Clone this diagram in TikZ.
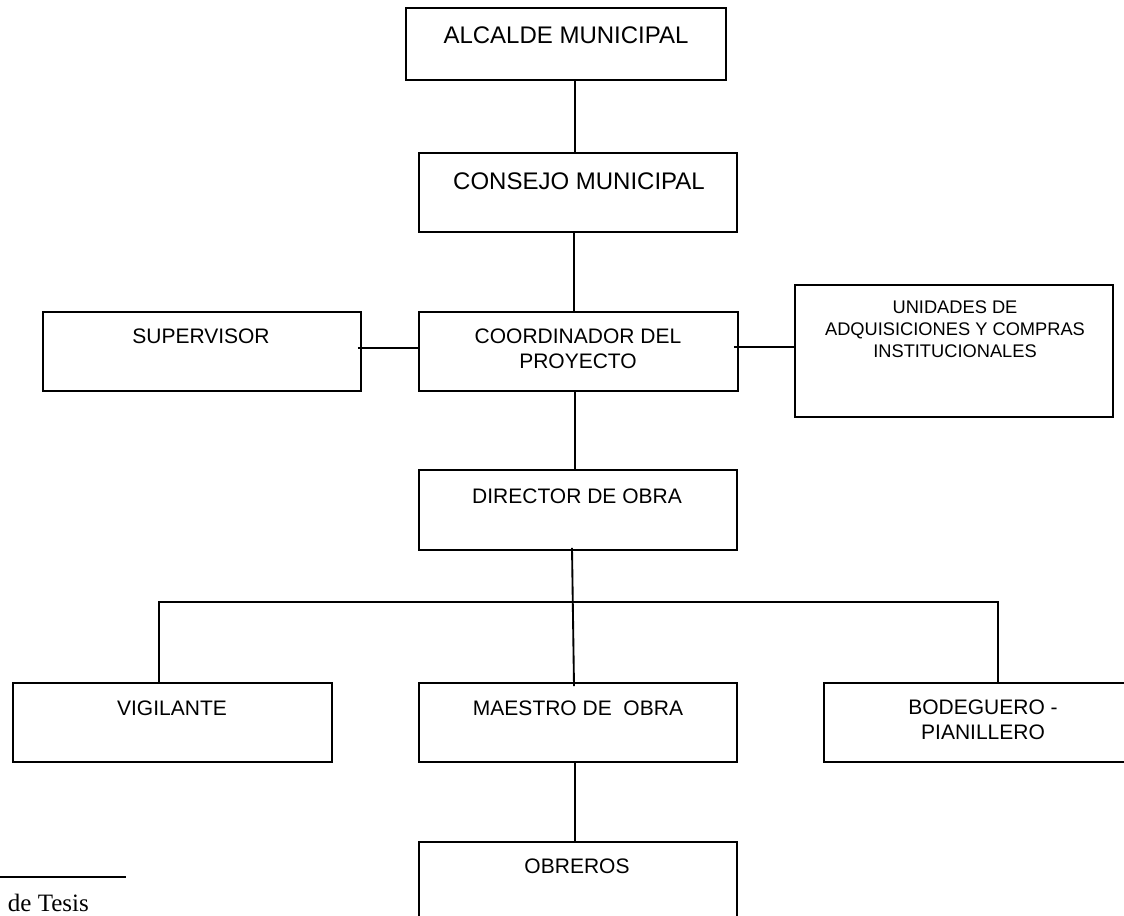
\documentclass[tikz,border=0pt]{standalone}
\usepackage{fontspec}
\setmainfont{Liberation Sans}
\newfontfamily\serifnote{Liberation Serif}
\usetikzlibrary{calc}
\begin{document}
\begin{tikzpicture}[x=0.75pt,y=-0.75pt,line width=1.4pt,
  orgbox/.style={draw,rectangle,inner sep=0pt,minimum width=238.5pt,minimum height=59.25pt},
  biglbl/.style={font=\fontsize{18}{21}\selectfont,align=center,inner sep=0pt},
  lbl/.style={font=\fontsize{15.75}{18.5}\selectfont,align=center,inner sep=0pt},
  smalllbl/.style={font=\fontsize{13.7}{16.5}\selectfont,align=center,inner sep=0pt},
  conn/.style={draw,line width=1.4pt}]
\useasboundingbox (0,0) rectangle (1124,915);
\clip (0,0) rectangle (1124,915);

% boxes
\node[orgbox,minimum width=240pt,minimum height=54pt] (alc) at (566,44) {};
\node[orgbox] (con) at (578,192.5) {};
\node[orgbox,minimum width=239.25pt] (coo) at (578.5,351.5) {};
\node[orgbox] (sup) at (202,351.5) {};
\node[orgbox,minimum height=99pt] (uni) at (954,351) {};
\node[orgbox,minimum height=60pt] (dir) at (578,510) {};
\node[orgbox,minimum width=239.25pt] (vig) at (172.5,722.5) {};
\node[orgbox] (mae) at (578,722.5) {};
\node[orgbox] (bod) at (983,722.5) {};
\node[orgbox] (obr) at (578,881.5) {};

% texts
\node[biglbl] (talc) at (566,35) {ALCALDE MUNICIPAL};
\node[biglbl] (tcon) at (579,181) {CONSEJO MUNICIPAL};
\node[lbl] (tcoo) at (578,348.5) {COORDINADOR DEL\\PROYECTO};
\node[lbl] (tsup) at (201,336) {SUPERVISOR};
\node[smalllbl] (tuni) at (955,329) {UNIDADES DE\\ADQUISICIONES Y COMPRAS\\INSTITUCIONALES};
\node[lbl] (tdir) at (577,496) {DIRECTOR DE OBRA};
\node[lbl] (tvig) at (172,708) {VIGILANTE};
\node[lbl] (tmae) at (578,708) {MAESTRO DE\ \ OBRA};
\node[lbl] (tbod) at (983,720) {BODEGUERO -\\PIANILLERO};
\node[lbl] (tobr) at (577,866) {OBREROS};

% connectors
\coordinate (j1) at ($(con.north)+(-3,0)$);
\draw[conn] (j1 |- alc.south) -- (j1);
\coordinate (j2) at ($(coo.north)+(-4.5,0)$);
\draw[conn] (j2 |- con.south) -- (j2);
\coordinate (j3) at ($(dir.north)+(-3,0)$);
\draw[conn] (j3 |- coo.south) -- (j3);
\coordinate (j4a) at ($(dir.south)+(-6,-3)$);
\coordinate (j4b) at ($(mae.north)+(-4,4)$);
\draw[conn] (j4a) -- (j4b);
\coordinate (j5) at ($(obr.north)+(-3,0)$);
\draw[conn] (j5 |- mae.south) -- (j5);
\coordinate (busL) at ($(vig.north)+(-13.5,-80)$);
\coordinate (busR) at ($(bod.north)+(15,-80)$);
\draw[conn] (busL |- vig.north) -- (busL) -- (busR) -- (busR |- bod.north);
\coordinate (s1) at ($(sup.east)+(-4,-3.5)$);
\draw[conn] (s1) -- (s1 -| coo.west);
\coordinate (u1) at ($(uni.west)+(0,-4)$);
\coordinate (u0) at ($(coo.east)+(-5,-4.5)$);
\draw[conn] (u0) -- (u1);

% footnote rule and text
\coordinate (fn1) at (0,877);
\coordinate (fn2) at (126,877);
\draw[line width=1.4pt] (fn1) -- (fn2);
\node[anchor=base west,inner sep=0pt,font=\serifnote\fontsize{18.75}{22}\selectfont] (fn) at (7,911) {de Tesis};
\end{tikzpicture}
\end{document}
